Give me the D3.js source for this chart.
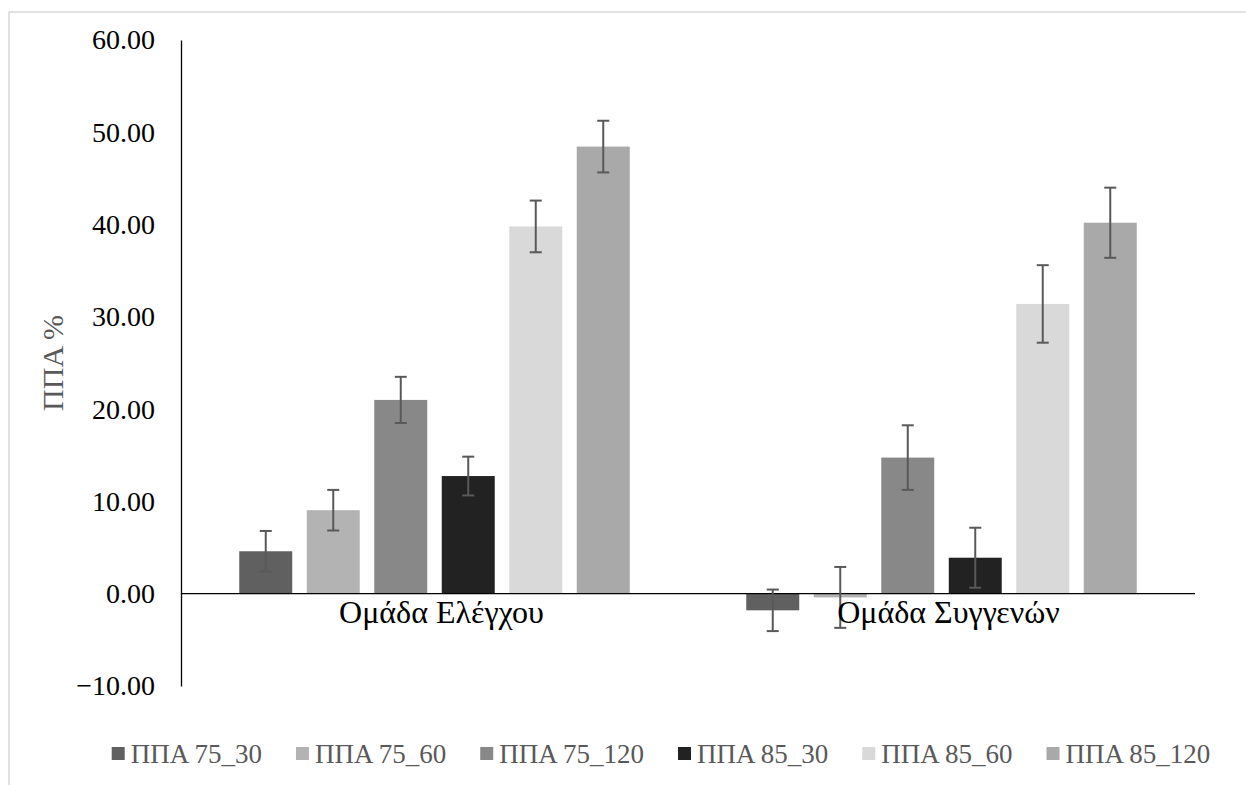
<!DOCTYPE html>
<html>
<head>
<meta charset="utf-8">
<script src="https://cdn.jsdelivr.net/npm/d3@7"></script>
<style>
  body { margin: 0; background: #fff; }
  svg text { font-family: "Liberation Serif", Tinos, "Times New Roman", serif; }
</style>
</head>
<body>
<svg id="chart"></svg>
<script>
const groups = ["Ομάδα Ελέγχου", "Ομάδα Συγγενών"];
const series = ["ΠΠΑ 75_30", "ΠΠΑ 75_60", "ΠΠΑ 75_120", "ΠΠΑ 85_30", "ΠΠΑ 85_60", "ΠΠΑ 85_120"];
const colors = ["#606060", "#b3b3b3", "#888888", "#222222", "#d9d9d9", "#a9a9a9"];
// values per series: [control, relatives]
const means = [
  [4.6, -1.8],
  [9.05, -0.4],
  [21.0, 14.75],
  [12.75, 3.9],
  [39.8, 31.4],
  [48.45, 40.2]
];
const errors = [
  [2.2, 2.25],
  [2.2, 3.3],
  [2.5, 3.5],
  [2.1, 3.25],
  [2.8, 4.2],
  [2.8, 3.8]
];
const yTicks = [-10, 0, 10, 20, 30, 40, 50, 60];

const svgWidth = 1246;
const svgHeight = 785;
const margin = { top: 40, right: 51, bottom: 99, left: 181 };
const font = "'Liberation Serif', Tinos, 'Times New Roman', serif";

const svg = d3.select("#chart").attr("width", svgWidth).attr("height", svgHeight);

// outer chart border
svg.append("rect")
  .attr("x", 9).attr("y", 12)
  .attr("width", 1260).attr("height", 800)
  .attr("fill", "none")
  .attr("stroke", "#d9d9d9")
  .attr("stroke-width", 1.5);

const data = [];
series.forEach((s, i) => {
  groups.forEach((g, j) => {
    data.push({ group: g, series: s, color: colors[i], value: means[i][j], err: errors[i][j] });
  });
});

const x0 = d3.scaleBand()
  .domain(groups)
  .range([margin.left, svgWidth - margin.right]);

const x1 = d3.scaleBand()
  .domain(series)
  .range([0, x0.bandwidth()])
  .paddingInner(0.215)
  .paddingOuter(0.863);

const y = d3.scaleLinear()
  .domain([-10, 60])
  .range([svgHeight - margin.bottom, margin.top]);

// bars
svg.append("g")
  .selectAll("rect")
  .data(data)
  .join("rect")
  .attr("x", (d) => x0(d.group) + x1(d.series))
  .attr("y", (d) => y(Math.max(0, d.value)))
  .attr("width", x1.bandwidth())
  .attr("height", (d) => Math.abs(y(d.value) - y(0)))
  .attr("fill", (d) => d.color);

// zero line
svg.append("line")
  .attr("x1", margin.left).attr("x2", svgWidth - margin.right)
  .attr("y1", y(0)).attr("y2", y(0))
  .attr("stroke", "#000")
  .attr("stroke-width", 1.3);

// y axis
const yAxis = svg.append("g")
  .attr("transform", `translate(${margin.left},0)`)
  .call(d3.axisLeft(y).tickValues(yTicks).tickFormat(d3.format(".2f")).tickSize(0).tickSizeOuter(0).tickPadding(26));
yAxis.attr("font-family", font);
yAxis.select(".domain").attr("stroke", "#000").attr("stroke-width", 1.3);
yAxis.selectAll("text")
  .attr("font-size", 28)
  .attr("fill", "#000");

// error bars
const eb = svg.append("g").attr("stroke", "#595959").attr("stroke-width", 2);
data.forEach((d) => {
  const cx = x0(d.group) + x1(d.series) + x1.bandwidth() / 2;
  const top = y(d.value + d.err);
  const bot = y(d.value - d.err);
  eb.append("line").attr("x1", cx).attr("x2", cx).attr("y1", top).attr("y2", bot);
  eb.append("line").attr("x1", cx - 6).attr("x2", cx + 6).attr("y1", top).attr("y2", top);
  eb.append("line").attr("x1", cx - 6).attr("x2", cx + 6).attr("y1", bot).attr("y2", bot);
});

// category labels
svg.append("g")
  .selectAll("text")
  .data(groups)
  .join("text")
  .attr("x", (d) => x0(d) + x0.bandwidth() / 2 + 7)
  .attr("y", y(0) + 29)
  .attr("text-anchor", "middle")
  .attr("font-size", 32)
  .attr("fill", "#000")
  .text((d) => d);

// y title
svg.append("text")
  .attr("transform", `translate(63,363) rotate(-90)`)
  .attr("text-anchor", "middle")
  .attr("font-size", 30)
  .attr("fill", "#595959")
  .text("ΠΠΑ %");

// legend
const legend = svg.append("g");
let lx = 0;
series.forEach((s, i) => {
  const item = legend.append("g").attr("transform", `translate(${lx},0)`);
  item.append("rect")
    .attr("x", 0).attr("y", -7)
    .attr("width", 13).attr("height", 13)
    .attr("fill", colors[i]);
  const t = item.append("text")
    .attr("x", 19).attr("y", 9)
    .attr("font-size", 27)
    .attr("fill", "#595959")
    .text(s);
  lx += 19 + t.node().getComputedTextLength() + 34;
});
const legendWidth = lx - 34;
legend.attr("transform", `translate(${661 - legendWidth / 2},754)`);
</script>
</body>
</html>
